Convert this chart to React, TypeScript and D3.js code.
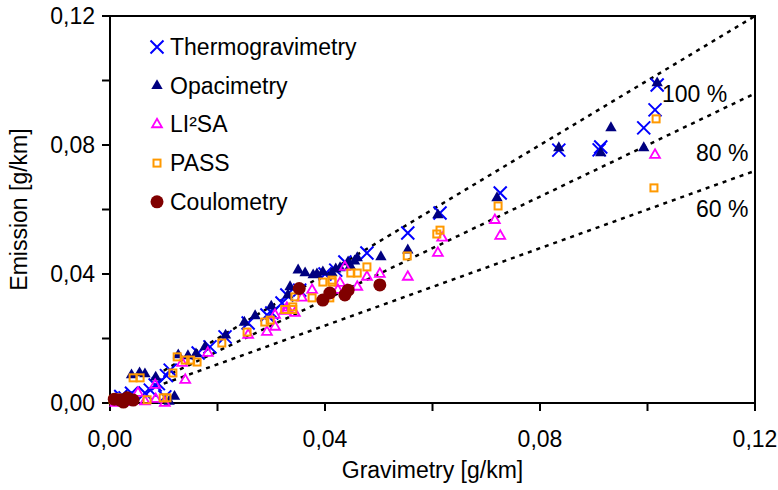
import React from "react";
import * as d3 from "d3";

const W = 778;
const H = 490;

// Data (x = gravimetry, y = emission, g/km)
const thermogravimetry: [number, number][] = [
  [0.1018, 0.0986], [0.1014, 0.0909], [0.0993, 0.0853], [0.0913, 0.0794], [0.0910, 0.0785],
  [0.0835, 0.0784], [0.0726, 0.0651], [0.0614, 0.0589], [0.0554, 0.0527], [0.0478, 0.0465],
  [0.0437, 0.0437], [0.0420, 0.0412], [0.0400, 0.0400], [0.0353, 0.0350], [0.0329, 0.0335],
  [0.0320, 0.0310], [0.0301, 0.0279], [0.0292, 0.0273], [0.0257, 0.0248], [0.0214, 0.0205],
  [0.0186, 0.0174], [0.0164, 0.0155], [0.0112, 0.0102], [0.0105, 0.0085], [0.0090, 0.0060],
  [0.0084, 0.0056], [0.0075, 0.0040], [0.0065, 0.0031], [0.0102, 0.0019], [0.0040, 0.0030],
  [0.0028, 0.0016], [0.0020, 0.0020]
];

const opacimetry: [number, number][] = [
  [0.1018, 0.0992], [0.0932, 0.0853], [0.0913, 0.0775], [0.0835, 0.0791], [0.0993, 0.0791],
  [0.0720, 0.0636], [0.0610, 0.0583], [0.0554, 0.0474], [0.0504, 0.0453], [0.0460, 0.0450],
  [0.0455, 0.0440], [0.0447, 0.0425], [0.0443, 0.0437], [0.0428, 0.0419], [0.0420, 0.0415],
  [0.0413, 0.0403], [0.0396, 0.0406], [0.0385, 0.0400], [0.0378, 0.0397], [0.0363, 0.0403],
  [0.0350, 0.0412], [0.0335, 0.0360], [0.0331, 0.0335], [0.0300, 0.0300], [0.0270, 0.0270],
  [0.0250, 0.0250], [0.0215, 0.0210], [0.0177, 0.0174], [0.0160, 0.0152], [0.0145, 0.0146],
  [0.0127, 0.0149], [0.0085, 0.0080], [0.0065, 0.0090], [0.0055, 0.0093], [0.0040, 0.0087],
  [0.0120, 0.0020], [0.0110, 0.0005], [0.0030, 0.0020], [0.0015, 0.0010]
];

const li2sa: [number, number][] = [
  [0.1014, 0.0769], [0.0716, 0.0567], [0.0726, 0.0518], [0.0618, 0.0512], [0.0610, 0.0465],
  [0.0554, 0.0391], [0.0502, 0.0400], [0.0478, 0.0391], [0.0460, 0.0360], [0.0437, 0.0422],
  [0.0441, 0.0350], [0.0424, 0.0350], [0.0428, 0.0372], [0.0376, 0.0350], [0.0357, 0.0326],
  [0.0329, 0.0295], [0.0325, 0.0285], [0.0344, 0.0279], [0.0307, 0.0273], [0.0329, 0.0288],
  [0.0292, 0.0220], [0.0307, 0.0236], [0.0257, 0.0211], [0.0182, 0.0155], [0.0134, 0.0124],
  [0.0140, 0.0071], [0.0084, 0.0056], [0.0052, 0.0031], [0.0102, 0.0000], [0.0028, 0.0002],
  [0.0010, 0.0000], [0.0065, 0.0005], [0.0085, 0.0012]
];

const pass: [number, number][] = [
  [0.1016, 0.0881], [0.1012, 0.0667], [0.0722, 0.0611], [0.0614, 0.0536], [0.0608, 0.0524],
  [0.0553, 0.0456], [0.0478, 0.0422], [0.0460, 0.0403], [0.0448, 0.0403], [0.0413, 0.0381],
  [0.0413, 0.0375], [0.0396, 0.0375], [0.0409, 0.0326], [0.0376, 0.0326], [0.0344, 0.0329],
  [0.0340, 0.0298], [0.0340, 0.0290], [0.0325, 0.0290], [0.0298, 0.0257], [0.0288, 0.0251],
  [0.0255, 0.0220], [0.0208, 0.0186], [0.0125, 0.0143], [0.0140, 0.0133], [0.0150, 0.0133],
  [0.0162, 0.0127], [0.0117, 0.0093], [0.0043, 0.0078], [0.0056, 0.0078], [0.0069, 0.0010],
  [0.0099, 0.0016], [0.0106, 0.0016], [0.0013, 0.0016], [0.0006, 0.0010]
];

const coulometry: [number, number][] = [
  [0.0352, 0.0355], [0.0396, 0.0319], [0.0409, 0.0341], [0.0437, 0.0335], [0.0443, 0.0350],
  [0.0502, 0.0366], [0.0019, 0.0009], [0.0032, 0.0016], [0.0043, 0.0009], [0.0025, 0.0003],
  [0.0008, 0.0012]
];

const seriesNames = ["Thermogravimetry", "Opacimetry", "LI²SA", "PASS", "Coulometry"];
const refRatios = [1.0, 0.8, 0.6];
const refLabels = ["100 %", "80 %", "60 %"];
const refStart = 0.01;
const xTicks = [0, 0.04, 0.08, 0.12];
const xMinor = [0, 0.02, 0.04, 0.06, 0.08, 0.1, 0.12];
const yTicks = [0, 0.04, 0.08, 0.12];
const yMinor = [0, 0.02, 0.04, 0.06, 0.08, 0.1, 0.12];

const FONT = "'Liberation Sans', Arial, sans-serif";
const fmt = (v: number) => v.toFixed(2).replace(".", ",");

const x = d3.scaleLinear().domain([0, 0.12]).range([110, 755]);
const y = d3.scaleLinear().domain([0, 0.12]).range([403, 16]);

const triPath = d3.symbol().type(d3.symbolTriangle).size(56)() as string;
const triSmall = d3.symbol().type(d3.symbolTriangle).size(42)() as string;

function Marker({ kind, cx, cy }: { kind: number; cx: number; cy: number }) {
  const t = `translate(${cx},${cy})`;
  if (kind === 0)
    return <path transform={t} d="M-6.5,-6.5L6.5,6.5M-6.5,6.5L6.5,-6.5" stroke="#0000FF" strokeWidth={2} fill="none" />;
  if (kind === 1) return <path transform={t} d={triPath} fill="#000080" />;
  if (kind === 2)
    return <path transform={t} d={triSmall} fill="none" stroke="#FF00FF" strokeWidth={1.8} />;
  if (kind === 3)
    return <rect x={cx - 3.5} y={cy - 3.5} width={7} height={7} fill="none" stroke="#FF9900" strokeWidth={2} />;
  return <circle cx={cx} cy={cy} r={6.5} fill="#800000" />;
}

const allSeries = [thermogravimetry, opacimetry, li2sa, pass, coulometry];

export default function App() {
  const labelPos = [
    [662, 102],
    [696, 161],
    [696, 217],
  ];
  return (
    <svg width={W} height={H} style={{ position: "absolute", left: 0, top: 0, background: "#fff" }} fontFamily={FONT}>
      <rect width={W} height={H} fill="#fff" />
      {/* frame */}
      <rect x={x(0)} y={y(0.12)} width={x(0.12) - x(0)} height={y(0) - y(0.12)} fill="none" stroke="#000" strokeWidth={2} />
      {/* ticks */}
      {xMinor.map((t) => (
        <line key={"xt" + t} x1={x(t)} x2={x(t)} y1={y(0)} y2={y(0) + 8} stroke="#000" strokeWidth={2} />
      ))}
      {yMinor.map((t) => (
        <line key={"yt" + t} x1={x(0) - 8} x2={x(0)} y1={y(t)} y2={y(t)} stroke="#000" strokeWidth={2} />
      ))}
      {xTicks.map((t) => (
        <text key={"xl" + t} x={x(t)} y={447} textAnchor="middle" fontSize={23}>{fmt(t)}</text>
      ))}
      {yTicks.map((t) => (
        <text key={"yl" + t} x={95} y={y(t) + 8} textAnchor="end" fontSize={23}>{fmt(t)}</text>
      ))}
      <text x={x(0.06)} y={478} textAnchor="middle" fontSize={23}>Gravimetry [g/km]</text>
      <text transform={`translate(27,${y(0.06)}) rotate(-90)`} textAnchor="middle" fontSize={23}>Emission [g/km]</text>
      {/* reference lines */}
      {refRatios.map((r, i) => (
        <line key={"ref" + i} x1={x(refStart)} y1={y(refStart * r)} x2={x(0.12)} y2={y(0.12 * r)}
          stroke="#000" strokeWidth={2.5} strokeDasharray="4,5" />
      ))}
      {refLabels.map((l, i) => (
        <text key={"rl" + i} x={labelPos[i][0]} y={labelPos[i][1]} fontSize={23}>{l}</text>
      ))}
      {/* points */}
      {allSeries.map((s, k) => (
        <g key={"s" + k}>
          {s.map((p, j) => (
            <Marker key={j} kind={k} cx={x(p[0])} cy={y(p[1])} />
          ))}
        </g>
      ))}
      {/* legend */}
      {seriesNames.map((n, i) => (
        <g key={"lg" + i}>
          <Marker kind={i} cx={157} cy={47 + i * 38.7} />
          <text x={170} y={47 + i * 38.7 + 8} fontSize={23}>{n}</text>
        </g>
      ))}
    </svg>
  );
}
